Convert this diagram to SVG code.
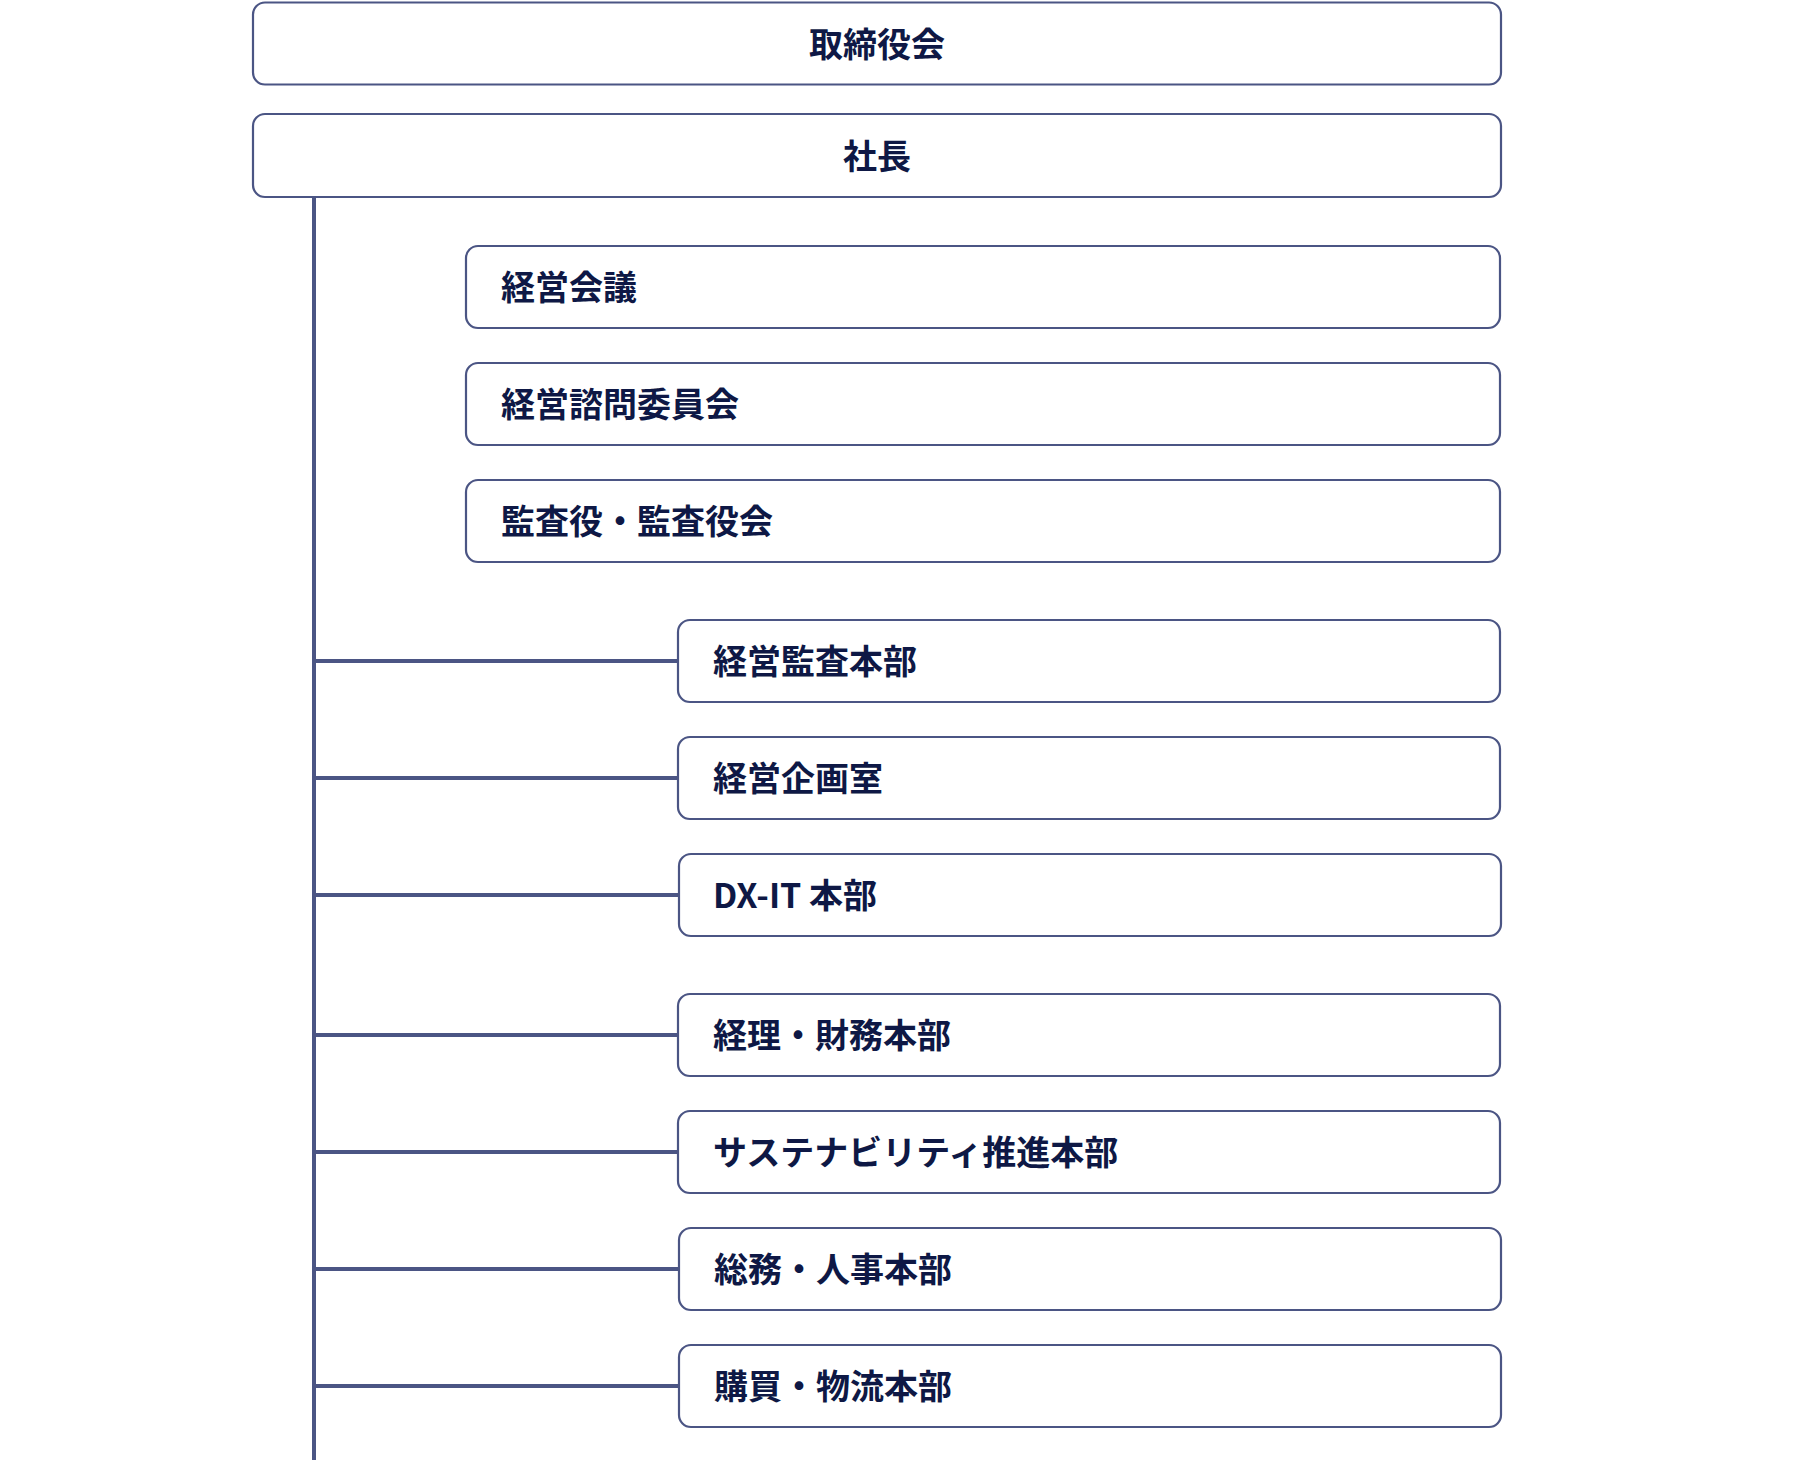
<svg xmlns="http://www.w3.org/2000/svg" width="1800" height="1460" viewBox="0 0 1800 1460">
  <style>
    .box { fill: #ffffff; stroke: #4b5584; stroke-width: 2.2; }
    .lbl { font-family: "Noto Sans CJK JP", "Noto Sans", sans-serif; font-weight: 700; font-size: 34px; fill: #0e1845; dominant-baseline: central; }
    .ctr { text-anchor: middle; }
    .conn { stroke: #4b5584; stroke-width: 4; fill: none; }
  </style>
  <rect width="1800" height="1460" fill="#ffffff"/>
  <g id="connectors">
    <line class="conn" x1="314" y1="196" x2="314" y2="1460"/>
    <line class="conn" x1="312" y1="661" x2="678" y2="661"/>
    <line class="conn" x1="312" y1="778" x2="678" y2="778"/>
    <line class="conn" x1="312" y1="895" x2="679" y2="895"/>
    <line class="conn" x1="312" y1="1035" x2="678" y2="1035"/>
    <line class="conn" x1="312" y1="1152" x2="678" y2="1152"/>
    <line class="conn" x1="312" y1="1269" x2="679" y2="1269"/>
    <line class="conn" x1="312" y1="1386" x2="679" y2="1386"/>
  </g>
  <g id="board">
    <rect class="box" x="253" y="2.5" width="1248" height="82" rx="12"/>
    <text class="lbl ctr" x="877" y="42">取締役会</text>
  </g>
  <g id="president">
    <rect class="box" x="253" y="114" width="1248" height="83" rx="12"/>
    <text class="lbl ctr" x="877" y="154">社長</text>
  </g>
  <g id="management-meeting">
    <rect class="box" x="466" y="246" width="1034" height="82" rx="12"/>
    <text class="lbl" x="501" y="285">経営会議</text>
  </g>
  <g id="advisory-committee">
    <rect class="box" x="466" y="363" width="1034" height="82" rx="12"/>
    <text class="lbl" x="501" y="402">経営諮問委員会</text>
  </g>
  <g id="auditors">
    <rect class="box" x="466" y="480" width="1034" height="82" rx="12"/>
    <text class="lbl" x="501" y="519">監査役・監査役会</text>
  </g>
  <g id="audit-hq">
    <rect class="box" x="678" y="620" width="822" height="82" rx="12"/>
    <text class="lbl" x="713" y="659">経営監査本部</text>
  </g>
  <g id="planning-office">
    <rect class="box" x="678" y="737" width="822" height="82" rx="12"/>
    <text class="lbl" x="713" y="776">経営企画室</text>
  </g>
  <g id="dx-it-hq">
    <rect class="box" x="679" y="854" width="822" height="82" rx="12"/>
    <text class="lbl" x="713" y="893">DX-IT 本部</text>
  </g>
  <g id="finance-hq">
    <rect class="box" x="678" y="994" width="822" height="82" rx="12"/>
    <text class="lbl" x="713" y="1033">経理・財務本部</text>
  </g>
  <g id="sustainability-hq">
    <rect class="box" x="678" y="1111" width="822" height="82" rx="12"/>
    <text class="lbl" x="713" y="1150">サステナビリティ推進本部</text>
  </g>
  <g id="ga-hr-hq">
    <rect class="box" x="679" y="1228" width="822" height="82" rx="12"/>
    <text class="lbl" x="714" y="1267">総務・人事本部</text>
  </g>
  <g id="procurement-hq">
    <rect class="box" x="679" y="1345" width="822" height="82" rx="12"/>
    <text class="lbl" x="714" y="1384">購買・物流本部</text>
  </g>
</svg>
